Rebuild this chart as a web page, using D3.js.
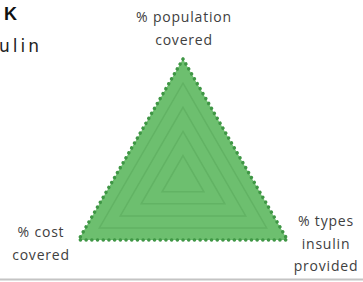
<!DOCTYPE html>
<html><head><meta charset="utf-8">
<script src="https://cdn.jsdelivr.net/npm/d3@7"></script>
<style>body{margin:0;background:#fff}svg{display:block}</style>
</head><body>
<svg id="c" width="363" height="282"></svg>
<script>
const axes = ["% population covered", "% types insulin provided", "% cost covered"];
const axisLabelLines = [["% population","covered"],["% types","insulin","provided"],["% cost","covered"]];
const values = [100, 100, 100];
const gridLevels = [20, 40, 60, 80, 100];

const svg = d3.select("#c");
const cx = 183, cy = 179.7, R = 120.7;
const r = d3.scaleLinear().domain([0,100]).range([0,R]);
const ang = d3.scaleLinear().domain([0, axes.length]).range([0, 2*Math.PI]);
const pt = (i, v) => [cx + r(v)*Math.sin(ang(i)), cy - r(v)*Math.cos(ang(i))];

// bottom rule
svg.append("line").attr("x1",0).attr("x2",363).attr("y1",279.5).attr("y2",279.5)
  .attr("stroke","#c4c4c4").attr("stroke-width",2);

// title bits
svg.append("text").attr("x",4).attr("y",20).text("K")
  .attr("font-family","Liberation Sans, Arial").attr("font-weight","bold").attr("font-size",18).attr("fill","#111");
svg.append("text").attr("x",-1).attr("y",52).text("ulin")
  .attr("font-family","DejaVu Sans, Liberation Sans").attr("font-size",17).attr("letter-spacing",3).attr("fill","#222");

const line = d3.line().curve(d3.curveLinearClosed);

// data area
svg.append("path")
  .attr("d", line(values.map((v,i)=>pt(i,v))))
  .attr("fill","#6dbf6f").attr("stroke","none");

// grid
gridLevels.slice(0,-1).forEach(g=>{
  svg.append("path").attr("d", line(axes.map((a,i)=>pt(i,g))))
    .attr("fill","none").attr("stroke","#62b364").attr("stroke-width",1.5);
});

// dotted outline
svg.append("path")
  .attr("d", line(values.map((v,i)=>pt(i,v))))
  .attr("fill","none").attr("stroke","#3f9645").attr("stroke-width",3.5)
  .attr("stroke-dasharray","0.1 5.6").attr("stroke-linecap","round").attr("stroke-linejoin","round");

// labels
const labelPos = [[184, 22, 23], [326, 226, 22.5], [41, 237, 23]];
axisLabelLines.forEach((lines,i)=>{
  const t = svg.append("text").attr("text-anchor","middle")
    .attr("font-family","Open Sans, Liberation Sans").attr("font-size",14).attr("letter-spacing",0.8).attr("fill","#404040");
  lines.forEach((l,j)=>{
    t.append("tspan").attr("x",labelPos[i][0]).attr("y",labelPos[i][1]+j*labelPos[i][2]).text(l);
  });
});
</script>
</body></html>
